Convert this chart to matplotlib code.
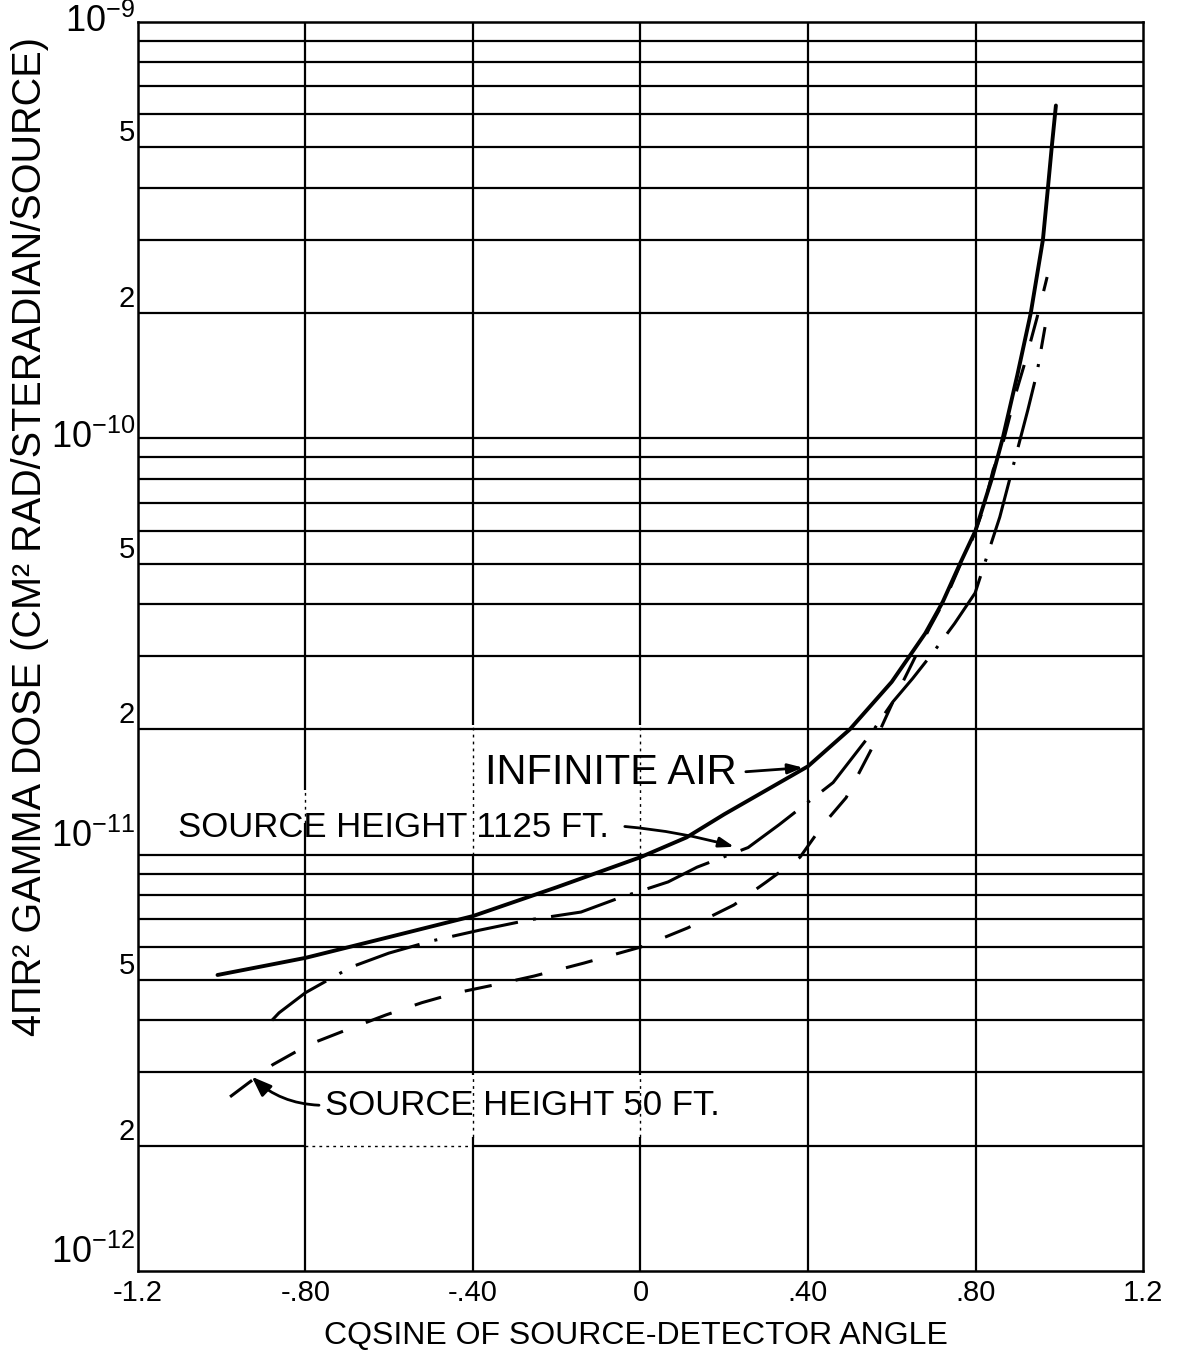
import numpy as np
import matplotlib.pyplot as plt
from matplotlib.ticker import FixedLocator, NullLocator

FONT = ['Liberation Sans', 'DejaVu Sans']
plt.rcParams['font.family'] = FONT
plt.rcParams['mathtext.default'] = 'regular'

# Infinite air (solid)
air_x = [-1.01, -0.9, -0.8, -0.6, -0.4, -0.2, 0.0, 0.11, 0.2, 0.4, 0.5, 0.6,
         0.68, 0.722, 0.763, 0.8, 0.839, 0.865, 0.9, 0.932, 0.961, 0.973,
         0.982, 0.992]
air_y = [5.14e-12, 5.4e-12, 5.65e-12, 6.34e-12, 7.12e-12, 8.35e-12, 9.86e-12,
         1.10e-11, 1.25e-11, 1.63e-11, 2.0e-11, 2.6e-11, 3.4e-11, 4.05e-11,
         5.0e-11, 6.0e-11, 8.0e-11, 1.0e-10, 1.42e-10, 2.0e-10, 3.0e-10,
         4.0e-10, 5.0e-10, 6.3e-10]

# Source height 1125 ft (dash-dot)
h1125_x = [-0.88, -0.863, -0.8, -0.691, -0.601, -0.5, -0.383, -0.266, -0.142,
           -0.051, 0.066, 0.135, 0.257, 0.331, 0.46, 0.55, 0.603, 0.65, 0.7,
           0.75, 0.799, 0.827, 0.858, 0.925, 0.947, 0.966]
h1125_y = [4.0e-12, 4.17e-12, 4.66e-12, 5.37e-12, 5.8e-12, 6.2e-12, 6.59e-12,
           6.97e-12, 7.28e-12, 7.87e-12, 8.6e-12, 9.33e-12, 1.04e-11, 1.18e-11,
           1.49e-11, 1.95e-11, 2.33e-11, 2.65e-11, 3.07e-11, 3.59e-11, 4.25e-11,
           5.19e-11, 6.47e-11, 1.17e-10, 1.44e-10, 1.85e-10]

# Source height 50 ft (dashed)
h50_x = [-0.98, -0.878, -0.794, -0.703, -0.608, -0.522, -0.438, -0.347, -0.254,
         -0.135, 0.001, 0.113, 0.223, 0.30, 0.381, 0.436, 0.491, 0.55, 0.603,
         0.65, 0.69, 0.73, 0.763, 0.78, 0.818, 0.842, 0.863, 0.894, 0.918,
         0.937, 0.947, 0.959, 0.971]
h50_y = [2.62e-12, 3.13e-12, 3.49e-12, 3.79e-12, 4.12e-12, 4.41e-12, 4.66e-12,
         4.87e-12, 5.11e-12, 5.49e-12, 6.0e-12, 6.67e-12, 7.57e-12, 8.59e-12,
         9.86e-12, 1.18e-11, 1.37e-11, 1.78e-11, 2.33e-11, 2.9e-11, 3.5e-11,
         4.15e-11, 4.95e-11, 5.3e-11, 6.73e-11, 8.39e-11, 9.53e-11, 1.26e-10,
         1.52e-10, 1.79e-10, 1.95e-10, 2.18e-10, 2.44e-10]

x_ticks = [-1.2, -0.8, -0.4, 0.0, 0.4, 0.8, 1.2]
x_labels = ['-1.2', '-.80', '-.40', '0', '.40', '.80', '1.2']
y_ticks = [1e-12, 2e-12, 5e-12, 1e-11, 2e-11, 5e-11, 1e-10, 2e-10, 5e-10, 1e-9]
y_labels = [r'$10^{-12}$', '2', '5', r'$10^{-11}$', '2', '5',
            r'$10^{-10}$', '2', '5', r'$10^{-9}$']

fig = plt.figure(figsize=(11.78, 13.56), dpi=100)
ax = fig.add_axes([0.1171, 0.0627, 0.8532, 0.9211])
ax.set_yscale('log')
ax.set_xlim(-1.2, 1.2)
ax.set_ylim(1e-12, 1e-9)

gk = dict(colors='black', lw=1.6, zorder=1)
dk = dict(colors='black', lw=1.0, linestyles=(0, (2, 3)), zorder=1)

# horizontal grid: every 1..9 in each decade
grid_y = [m * 10.0 ** e for e in (-12, -11, -10) for m in range(2, 10)] + [1e-11, 1e-10]
for gy in grid_y:
    if gy == 2e-12:
        ax.hlines(gy, -1.2, -0.8, **gk)
        ax.hlines(gy, -0.8, -0.4, **dk)
        ax.hlines(gy, -0.4, 1.2, **gk)
    else:
        ax.axhline(gy, color='black', lw=1.6, zorder=1)

# vertical grid; the pasted-on labels leave it dotted where they cover it
ax.vlines(-0.8, 1e-12, 1.19e-11, **gk)
ax.vlines(-0.8, 1.19e-11, 1.43e-11, **dk)
ax.vlines(-0.8, 1.43e-11, 1e-9, **gk)
for gx in (-0.4, 0.0):
    ax.vlines(gx, 1e-12, 2.1e-12, **gk)
    ax.vlines(gx, 2.1e-12, 2.95e-12, **dk)
    ax.vlines(gx, 2.95e-12, 1.0e-11, **gk)
    ax.vlines(gx, 1.0e-11, 2.05e-11, **dk)
    ax.vlines(gx, 2.05e-11, 1e-9, **gk)
for gx in (0.4, 0.8):
    ax.axvline(gx, color='black', lw=1.6, zorder=1)

ax.plot(air_x, air_y, color='black', lw=2.8, solid_capstyle='round', zorder=3)
ax.plot(h1125_x, h1125_y, color='black', lw=2.2, dashes=(22, 5, 1, 5), zorder=3)
ax.plot(h50_x, h50_y, color='black', lw=2.2, dashes=(9, 8), zorder=3)

for s in ax.spines.values():
    s.set_linewidth(1.8)

ax.xaxis.set_major_locator(FixedLocator(x_ticks))
ax.set_xticklabels(x_labels)
ax.yaxis.set_major_locator(FixedLocator(y_ticks))
ax.yaxis.set_minor_locator(NullLocator())
ax.set_yticklabels(y_labels)
ax.tick_params(axis='x', length=0, labelsize=21, pad=6)
ax.tick_params(axis='y', length=0, labelsize=21, pad=2)
for lbl, v in zip(ax.get_yticklabels(), y_ticks):
    if lbl.get_text().startswith('$'):
        lbl.set_fontsize(26)
        lbl.set_va('bottom' if v < 1e-10 else 'center')
    else:
        lbl.set_va('bottom')

ax.set_xlabel('CQSINE OF SOURCE-DETECTOR ANGLE', fontsize=23, va='center')
ax.xaxis.set_label_coords(0.495, -0.052)
ax.set_ylabel('4ΠR² GAMMA DOSE (CM² RAD/STERADIAN/SOURCE)', fontsize=28.5, va='center')
ax.yaxis.set_label_coords(-0.1075, 0.5877)

arrow = dict(arrowstyle='-|>,head_length=0.9,head_width=0.3', color='black', lw=2)
ax.text(-0.371, 1.57e-11, 'INFINITE AIR', fontsize=30, va='center', ha='left', zorder=4)
ax.annotate('', xy=(0.395, 1.62e-11), xytext=(0.245, 1.58e-11), arrowprops=arrow)
ax.text(-1.104, 1.16e-11, 'SOURCE HEIGHT 1125 FT.', fontsize=25, va='center', ha='left', zorder=4)
ax.annotate('', xy=(0.23, 1.04e-11), xytext=(-0.044, 1.17e-11),
            arrowprops=dict(arrow, connectionstyle='arc3,rad=-0.05'))
ax.text(-0.753, 2.5e-12, 'SOURCE HEIGHT 50 FT.', fontsize=25, va='center', ha='left', zorder=4)
ax.annotate('', xy=(-0.933, 2.96e-12), xytext=(-0.761, 2.5e-12),
            arrowprops=dict(arrowstyle='-|>,head_length=1.2,head_width=0.45', color='black',
                            lw=2, connectionstyle='arc3,rad=-0.2'))

fig.savefig('out.png', dpi=100)
